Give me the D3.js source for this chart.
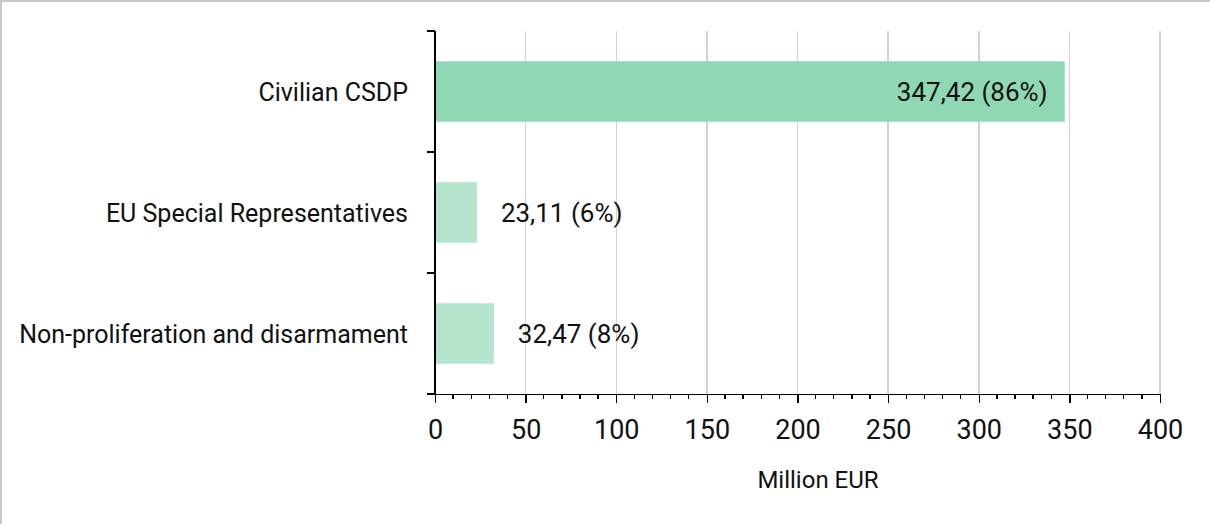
<html>
<head>
<meta charset="UTF-8">
<style>
  body { margin: 0; background: #fff; }
  svg text { font-family: Roboto, "Noto Sans", sans-serif; fill: #111; }
  .grid line { stroke: #d2d2d2; stroke-width: 1.5; shape-rendering: crispEdges; }
  .axis path, .axis line { stroke: #000; stroke-width: 1.3; fill: none; shape-rendering: crispEdges; }
</style>
<script src="https://cdn.jsdelivr.net/npm/d3@7"></script>
</head>
<body>
<div class="chart"></div>
<script>

var categories = ["Civilian CSDP", "EU Special Representatives", "Non-proliferation and disarmament"];
var values = [347.42, 23.11, 32.47];
var valueLabels = ["347,42 (86%)", "23,11 (6%)", "32,47 (8%)"];
var xTicks = [0, 50, 100, 150, 200, 250, 300, 350, 400];
var xMinorTicks = d3.range(0, 401, 10);
var xTitle = "Million EUR";

var W = 1210, H = 524;

var svg = d3.select(".chart").append("svg")
    .attr("width", W)
    .attr("height", H);

// frame (only top and left edges visible in the original crop)
svg.append("rect")
    .attr("x", 1).attr("y", 1)
    .attr("width", W + 10).attr("height", H + 10)
    .attr("fill", "none")
    .attr("stroke", "#c8c8c8")
    .attr("stroke-width", 2);

var x = d3.scaleLinear().domain([0, 400]).range([435, 1160]);
var y = d3.scaleBand().domain(categories).range([31, 394])
    .paddingInner(0.5).paddingOuter(0.25);

// vertical gridlines
svg.append("g").attr("class", "grid")
  .selectAll("line")
    .data(xTicks.slice(1))
  .enter().append("line")
    .attr("x1", function(d) { return x(d); })
    .attr("x2", function(d) { return x(d); })
    .attr("y1", 31)
    .attr("y2", 394);

// bars
svg.selectAll(".bar")
    .data(values)
  .enter().append("rect")
    .attr("class", "bar")
    .attr("x", x(0))
    .attr("y", function(d, i) { return y(categories[i]); })
    .attr("width", function(d) { return x(d) - x(0); })
    .attr("height", y.bandwidth())
    .style("fill", function(d, i) { return i === 0 ? "#8fd8b3" : "#b4e5cc"; });

// value labels
svg.selectAll(".val")
    .data(values)
  .enter().append("text")
    .attr("class", "val")
    .attr("x", function(d, i) { return i === 0 ? x(d) - 17 : x(d) + 24; })
    .attr("y", function(d, i) { return y(categories[i]) + y.bandwidth() / 2; })
    .attr("dy", "0.36em")
    .style("text-anchor", function(d, i) { return i === 0 ? "end" : "start"; })
    .style("font-size", "26px")
    .text(function(d, i) { return valueLabels[i]; });

// y axis
var yAxis = svg.append("g").attr("class", "axis");
yAxis.append("line")
    .attr("x1", 435).attr("x2", 435)
    .attr("y1", 31).attr("y2", 394);
var bounds = [31].concat(categories.map(function(c) { return y(c) + y.bandwidth() + y.step() * 0.25; }));
yAxis.selectAll(".ytick")
    .data(bounds)
  .enter().append("line")
    .attr("class", "ytick")
    .attr("x1", 427).attr("x2", 435)
    .attr("y1", function(d) { return d; })
    .attr("y2", function(d) { return d; });

svg.selectAll(".cat")
    .data(categories)
  .enter().append("text")
    .attr("class", "cat")
    .attr("x", 408)
    .attr("y", function(d) { return y(d) + y.bandwidth() / 2; })
    .attr("dy", "0.36em")
    .style("text-anchor", "end")
    .style("font-size", "25px")
    .text(function(d) { return d; });

// x axis
var xAxis = d3.axisBottom(x)
    .tickValues(xTicks)
    .tickSize(9)
    .tickPadding(17)
    .tickSizeOuter(0);

var gx = svg.append("g")
    .attr("class", "axis")
    .attr("transform", "translate(0,394)")
    .call(xAxis);
gx.selectAll("text").style("font-size", "27px").attr("fill", "#111");

gx.selectAll(".minor")
    .data(xMinorTicks.filter(function(d) { return d % 50 !== 0; }))
  .enter().append("line")
    .attr("class", "minor")
    .attr("x1", function(d) { return x(d); })
    .attr("x2", function(d) { return x(d); })
    .attr("y1", 0).attr("y2", 5)
    .attr("stroke", "#000");

svg.append("text")
    .attr("x", 818)
    .attr("y", 488)
    .style("text-anchor", "middle")
    .style("font-size", "24px")
    .text(xTitle);

</script>
</body>
</html>
